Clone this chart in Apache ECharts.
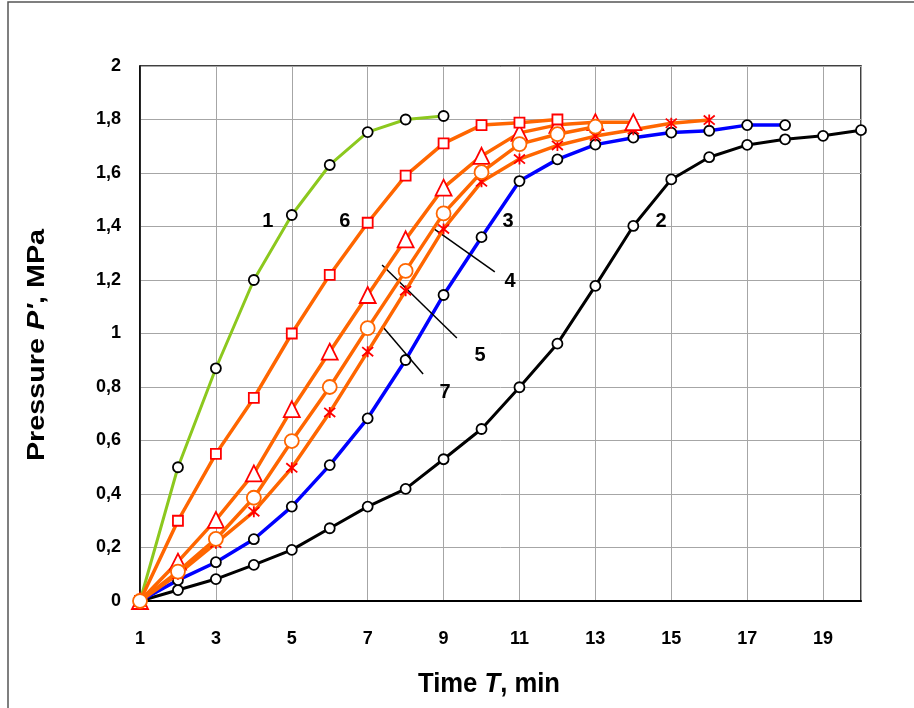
<!DOCTYPE html>
<html>
<head>
<meta charset="utf-8">
<script src="https://cdn.jsdelivr.net/npm/echarts@6/dist/echarts.min.js"></script>
<style>html,body{margin:0;padding:0;background:#fff}#c{width:914px;height:708px}</style>
</head>
<body>
<div id="c"></div>
<script>
// Time, min (x values start at 1)
const time = [1,2,3,4,5,6,7,8,9,10,11,12,13,14,15,16,17,18,19,20];
// Pressure P', MPa
const curve1 = [0,0.50,0.87,1.20,1.443,1.63,1.753,1.80,1.813];
const curve2 = [0,0.041,0.082,0.135,0.191,0.272,0.353,0.419,0.53,0.643,0.799,0.962,1.178,1.402,1.576,1.659,1.705,1.726,1.739,1.76];
const curve3 = [0,0.078,0.145,0.231,0.353,0.508,0.683,0.901,1.144,1.36,1.57,1.651,1.706,1.732,1.751,1.758,1.779,1.779];
const curveStar = [0,0.10,0.216,0.334,0.498,0.705,0.932,1.16,1.391,1.567,1.652,1.703,1.738,1.762,1.786,1.798];
const curveTri = [0,0.147,0.303,0.477,0.717,0.932,1.144,1.352,1.545,1.664,1.75,1.78,1.79,1.79];
const curveCirc = [0,0.11,0.232,0.386,0.598,0.80,1.02,1.234,1.449,1.603,1.708,1.745,1.773];
const curve6 = [0,0.30,0.55,0.759,1.0,1.219,1.414,1.59,1.711,1.779,1.788,1.80];
const xTicks = [1,3,5,7,9,11,13,15,17,19];

// curve number labels [text, x, y]
const curveLabels = [['1',4.37,1.417],['6',6.40,1.417],['3',10.70,1.417],['2',14.73,1.417],['4',10.75,1.196],['5',9.96,0.916],['7',9.04,0.778]];
// leader arrows [[x0,y0],[x1,y1]]
const arrows = [[[10.35,1.23],[8.72,1.394]],[[9.35,0.983],[7.38,1.256]],[[8.46,0.849],[7.38,1.028]]];

const pairs = arr => arr.map((v,i)=>[time[i], v]);
const ORANGE = '#FF6600', RED = '#FF0000';
const FONT = 'Liberation Sans, Arial, sans-serif';
const starPath = 'path://M-5,-5L5,5M-5,5L5,-5M0,-6L0,6';

function lineSeries(name, data, color, width, symbol, size, border, z) {
  return {
    name, type:'line', data: pairs(data), z: z,
    lineStyle:{color, width},
    symbol, symbolSize:size, showSymbol:true,
    itemStyle:{color: symbol===starPath ? 'rgba(0,0,0,0)' : '#fff', borderColor:border, borderWidth:1.8},
    emphasis:{disabled:true}, animation:false
  };
}

const chart = echarts.init(document.getElementById('c'), null, {renderer:'canvas'});
chart.setOption({
  animation:false,
  backgroundColor:'#fff',
  grid:{left:140, top:66, right:53, bottom:107, show:true, borderColor:'#000', borderWidth:1.5, backgroundColor:'transparent'},
  xAxis:{
    type:'value', min:1, max:20, interval:2,
    axisLine:{show:true, onZero:false, lineStyle:{color:'#000', width:2}},
    axisTick:{show:false},
    splitLine:{show:true, lineStyle:{color:'#a6a6a6', width:1}},
    axisLabel:{show:true, margin:29, fontSize:18, fontWeight:'bold', color:'#000', fontFamily:FONT, showMaxLabel:false,
      formatter: v => xTicks.indexOf(v) >= 0 ? String(v) : ''}
  },
  yAxis:{
    type:'value', min:0, max:2, interval:0.2,
    axisLine:{show:true, lineStyle:{color:'#000', width:1.5}},
    axisTick:{show:false},
    splitLine:{show:true, lineStyle:{color:'#a6a6a6', width:1}},
    axisLabel:{margin:19, fontSize:18, fontWeight:'bold', color:'#000', fontFamily:FONT,
      formatter: v => String(Math.round(v*10)/10).replace('.', ',')}
  },
  graphic:[
    {type:'rect', shape:{x:8, y:2, width:1000, height:1000}, style:{fill:'none', stroke:'#555', lineWidth:1.5}, silent:true},
    {type:'group', x:489, y:685, scaleX:0.95, children:[
      {type:'text', style:{text:'{n|Time }{i|T}{n|, min}', rich:{
        n:{fontSize:27, fontWeight:'bold', fontFamily:FONT, fill:'#000'},
        i:{fontSize:27, fontWeight:'bold', fontStyle:'italic', fontFamily:FONT, fill:'#000'}},
        align:'center', verticalAlign:'middle'}}
    ]},
    {type:'group', x:38, y:345, rotation:Math.PI/2, children:[
      {type:'group', scaleX:1.25, children:[
        {type:'text', style:{text:'{n|Pressure }{i|P\'}{n|, MPa}', rich:{
          n:{fontSize:23, fontWeight:'bold', fontFamily:FONT, fill:'#000'},
          i:{fontSize:23, fontWeight:'bold', fontStyle:'italic', fontFamily:FONT, fill:'#000'}},
          align:'center', verticalAlign:'middle'}}
      ]}
    ]}
  ],
  series:[
    lineSeries('2', curve2, '#000', 3, 'circle', 10, '#000', 2),
    lineSeries('3', curve3, '#0000FF', 3.5, 'circle', 10, '#000', 3),
    lineSeries('1', curve1, '#8CC81E', 3, 'circle', 10, '#000', 4),
    lineSeries('star', curveStar, ORANGE, 3.5, starPath, 11, RED, 5),
    lineSeries('tri', curveTri, ORANGE, 3.5, 'triangle', 16, RED, 6),
    lineSeries('6', curve6, ORANGE, 3.5, 'rect', 10, RED, 7),
    lineSeries('circ', curveCirc, ORANGE, 3.5, 'circle', 14, ORANGE, 8),
    {
      name:'annotations', type:'scatter', data:[], z:10, silent:true, animation:false,
      markLine:{
        silent:true, animation:false, symbol:['none','arrow'], symbolSize:[0,8],
        lineStyle:{color:'#000', width:1.5, type:'solid'}, label:{show:false},
        data: arrows.map(a => [{coord:a[0]},{coord:a[1]}])
      },
      markPoint:{
        silent:true, animation:false, symbol:'circle', symbolSize:0,
        label:{show:true, position:'inside', fontSize:20, fontWeight:'bold', color:'#000', fontFamily:FONT,
          formatter: p => p.name},
        data: curveLabels.map(l => ({name:l[0], coord:[l[1], l[2]]}))
      }
    }
  ]
});
</script>
</body>
</html>
